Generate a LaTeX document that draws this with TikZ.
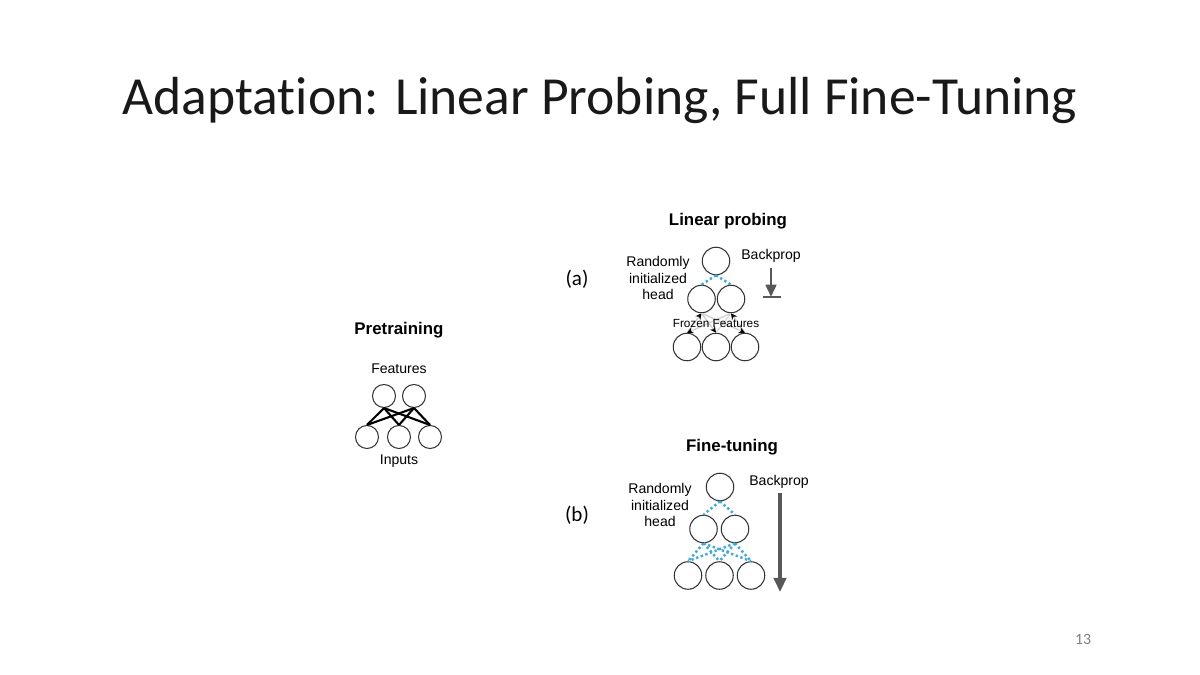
\documentclass[tikz,border=0pt]{standalone}
\usepackage{fontspec}
\setmainfont{Liberation Sans}
\newfontfamily\slidefont[Ligatures=NoCommon]{Carlito}
\usetikzlibrary{arrows.meta}
\definecolor{dotblue}{RGB}{64,168,222}
\definecolor{bpgray}{RGB}{88,88,88}

\begin{document}
\begin{tikzpicture}[x=0.02cm,y=-0.02cm,
        unit/.style={draw=black!80,line width=0.6pt,circle,minimum size=0.55cm,inner sep=0pt},
        smallunit/.style={unit,minimum size=0.46cm},
        lbl/.style={font=\fontsize{8}{9.6}\selectfont,align=center,inner sep=0pt},
        ttl/.style={font=\fontsize{9.6}{11}\selectfont\bfseries,inner sep=0pt},
        wire/.style={line width=1.2pt,black},
        dotwire/.style={line width=1.4pt,dotblue,dash pattern=on 1.3pt off 1.5pt},
        frozen/.style={gray!35,line width=0.6pt},
        frozentip/.style={frozen,-{Stealth[black,length=3.5pt,width=3.5pt]}},
        slide/.style={font=\slidefont\fontsize{12}{14}\selectfont,inner sep=0pt}]
    \useasboundingbox[fill=white] (0,0) rectangle (1200,675);
    % title and slide number
    \node[slide,font=\slidefont\fontsize{30.5}{36}\selectfont,anchor=base,text=black!90] (title) at (600,115) {Adaptation: Linear Probing, Full Fine-Tuning};
    \node[slide,font=\slidefont\fontsize{9}{11}\selectfont,text=black!50] (pagenum) at (1083,639) {13};
    % pretraining
    \node[ttl] (pretitle) at (399,330) {Pretraining};
    \node[lbl] (feat) at (399,369) {Features};
    \node[lbl] (inp) at (399,461) {Inputs};
    \node[smallunit] (pa) at (384,396) {};
    \node[smallunit] (pb) at (414,396) {};
    \foreach \i/\x in {1/367,2/399,3/430}{
        \node[smallunit] (pi\i) at (\x,437) {};
        \draw[wire] (pa.south)--(pi\i.north);
        \draw[wire] (pb.south)--(pi\i.north);
    }
    % (a) linear probing
    \node[slide] (alab) at (577,279) {(a)};
    \node[ttl] (lptitle) at (728,221) {Linear probing};
    \node[lbl] (lphead) at (658,278) {Randomly\\initialized\\head};
    \node[unit] (lh) at (716,261) {};
    \node[unit] (lf1) at (701.5,299) {};
    \node[unit] (lf2) at (731,299) {};
    \draw[dotwire] (lh.south)--(lf1.north);
    \draw[dotwire] (lh.south)--(lf2.north);
    \foreach \i/\x in {1/687,2/716,3/745}{
        \node[unit] (lx\i) at (\x,347) {};
        \draw[frozen] (lx\i.north)--(lf1.south);
        \draw[frozen] (lx\i.north)--(lf2.south);
    }
    \draw[frozentip] (lx1.north)--(lf1.south);
    \draw[frozentip] (lx3.north)--(lf2.south);
    \draw[frozentip] (lf2.south)--(lx1.north);
    \draw[frozentip] (lf1.south)--(lx2.north);
    \draw[frozentip] (lf1.south)--(lx3.north);
    \node[font=\fontsize{6.7}{8}\selectfont,inner sep=0pt] (frz) at (716,324) {Frozen Features};
    \node[lbl] (lpback) at (771,256) {Backprop};
    \coordinate (bpa1) at (771,268);
    \coordinate (bpa2) at (771,297);
    \draw[bpgray,line width=1.6pt,-{Triangle[length=7pt,width=6pt]}] (bpa1)--(bpa2);
    \draw[bpgray,line width=1.2pt] ([xshift=-0.17cm]bpa2)--([xshift=0.2cm]bpa2);
    % (b) fine-tuning
    \node[slide] (blab) at (577,515) {(b)};
    \node[ttl] (fttitle) at (732,447) {Fine-tuning};
    \node[lbl] (fthead) at (660,505) {Randomly\\initialized\\head};
    \node[unit] (fh) at (720,487) {};
    \node[unit] (ff1) at (703.5,529) {};
    \node[unit] (ff2) at (735,529) {};
    \draw[dotwire] (fh.south)--(ff1.north);
    \draw[dotwire] (fh.south)--(ff2.north);
    \foreach \i/\x in {1/688,2/719.5,3/751}{
        \node[unit] (fx\i) at (\x,575.5) {};
        \draw[dotwire] (ff1.south)--(fx\i.north);
        \draw[dotwire] (ff2.south)--(fx\i.north);
    }
    \node[lbl] (ftback) at (779,482) {Backprop};
    \coordinate (bpb1) at (780,493);
    \coordinate (bpb2) at (780,592);
    \draw[bpgray,line width=2.4pt,-{Triangle[length=8pt,width=7pt]}] (bpb1)--(bpb2);
\end{tikzpicture}
\end{document}
